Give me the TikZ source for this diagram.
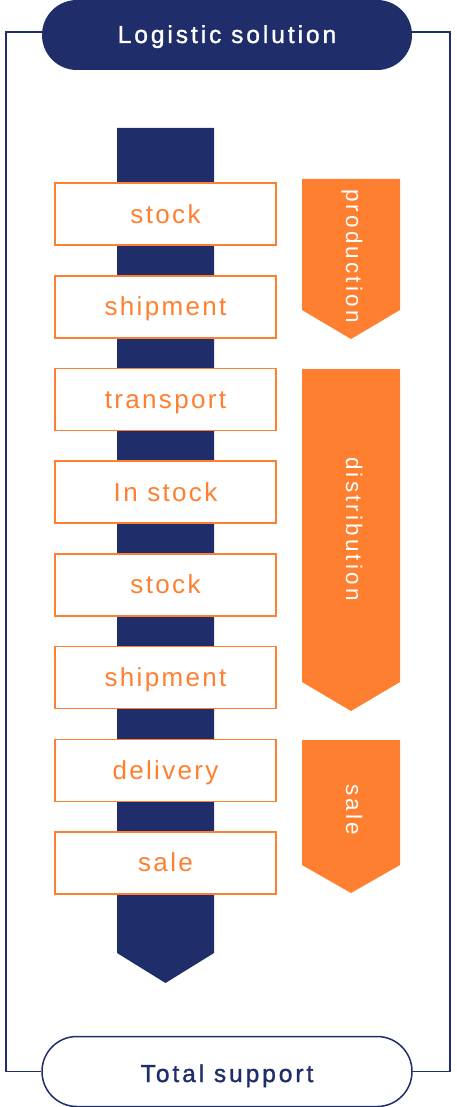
\documentclass[tikz,border=0pt]{standalone}
\usepackage{fontspec}
\setmainfont{Liberation Sans}
\newfontfamily\lblfont[LetterSpace=9]{Liberation Sans}
\newfontfamily\headfont[LetterSpace=12,FakeBold=1.3]{Liberation Sans}
\newfontfamily\phasefont[LetterSpace=14]{Liberation Sans}
\usetikzlibrary{matrix,positioning,backgrounds}
\definecolor{navy}{HTML}{1F2D6B}
\definecolor{boxorange}{HTML}{FF7F30}
\tikzset{
stepbox/.style={
  draw=boxorange,
  line width=1.5pt,
  fill=white,
  text=boxorange,
  font=\lblfont\fontsize{26}{26}\selectfont,
  minimum width=221pt,
  minimum height=62pt,
  text height=20pt,
  text depth=2pt,
  inner sep=0pt
  },
boxmat/.style={
  matrix of nodes,
  row sep=29.2pt,
  nodes={stepbox}
  },
pill/.style={
  rounded corners=34.9pt,
  minimum width=370pt,
  minimum height=70pt,
  inner sep=0pt,
  font=\headfont\fontsize{24.5}{24.5}\selectfont
  },
phase/.style={
  rotate=-90,
  text=white,
  inner sep=0pt,
  text height=17pt,
  text depth=5pt,
  font=\phasefont\fontsize{22.5}{22.5}\selectfont
  }
}

\begin{document}
\begin{tikzpicture}[x=1pt, y=-1pt]
\useasboundingbox (0,0) rectangle (456,1107);

% stem behind the steps
\fill[navy] (117,128) -- (214,128) -- (214,953) -- (165.5,983) -- (117,953) -- cycle;

\matrix[boxmat] at (165.5,538.5) (steps)
{
stock \\
shipment \\
transport \\
In stock \\
stock \\
shipment \\
delivery \\
sale \\
};

% phases
\fill[boxorange] (302,179) -- (400,179) -- (400,310) -- (351,339) -- (302,310) -- cycle;
\node[phase] (production) at (352,256) {production};
\fill[boxorange] (302,369) -- (400,369) -- (400,682) -- (351,711) -- (302,682) -- cycle;
\node[phase] (distribution) at (352,529) {distribution};
\fill[boxorange] (302,740) -- (400,740) -- (400,865) -- (351,893) -- (302,865) -- cycle;
\node[phase] (sale) at (352,809.5) {sale};

\node[pill, fill=navy, text=white, text height=16pt, text depth=0pt]
  (title) at (227,35) {Logistic solution};
\node[pill, draw=navy, line width=1.5pt, fill=white, text=navy, text height=21pt, text depth=0pt]
  (footer) at (227,1071.5) {Total support};

\begin{scope}[on background layer]
\draw[navy, line width=1.5pt]
  (title.west) ++(0,-3) -- ++(-36,0) |- (footer.west);
\draw[navy, line width=1.5pt]
  (title.east) ++(0,-3) -- ++(38,0) |- (footer.east);
\end{scope}
\end{tikzpicture}
\end{document}
